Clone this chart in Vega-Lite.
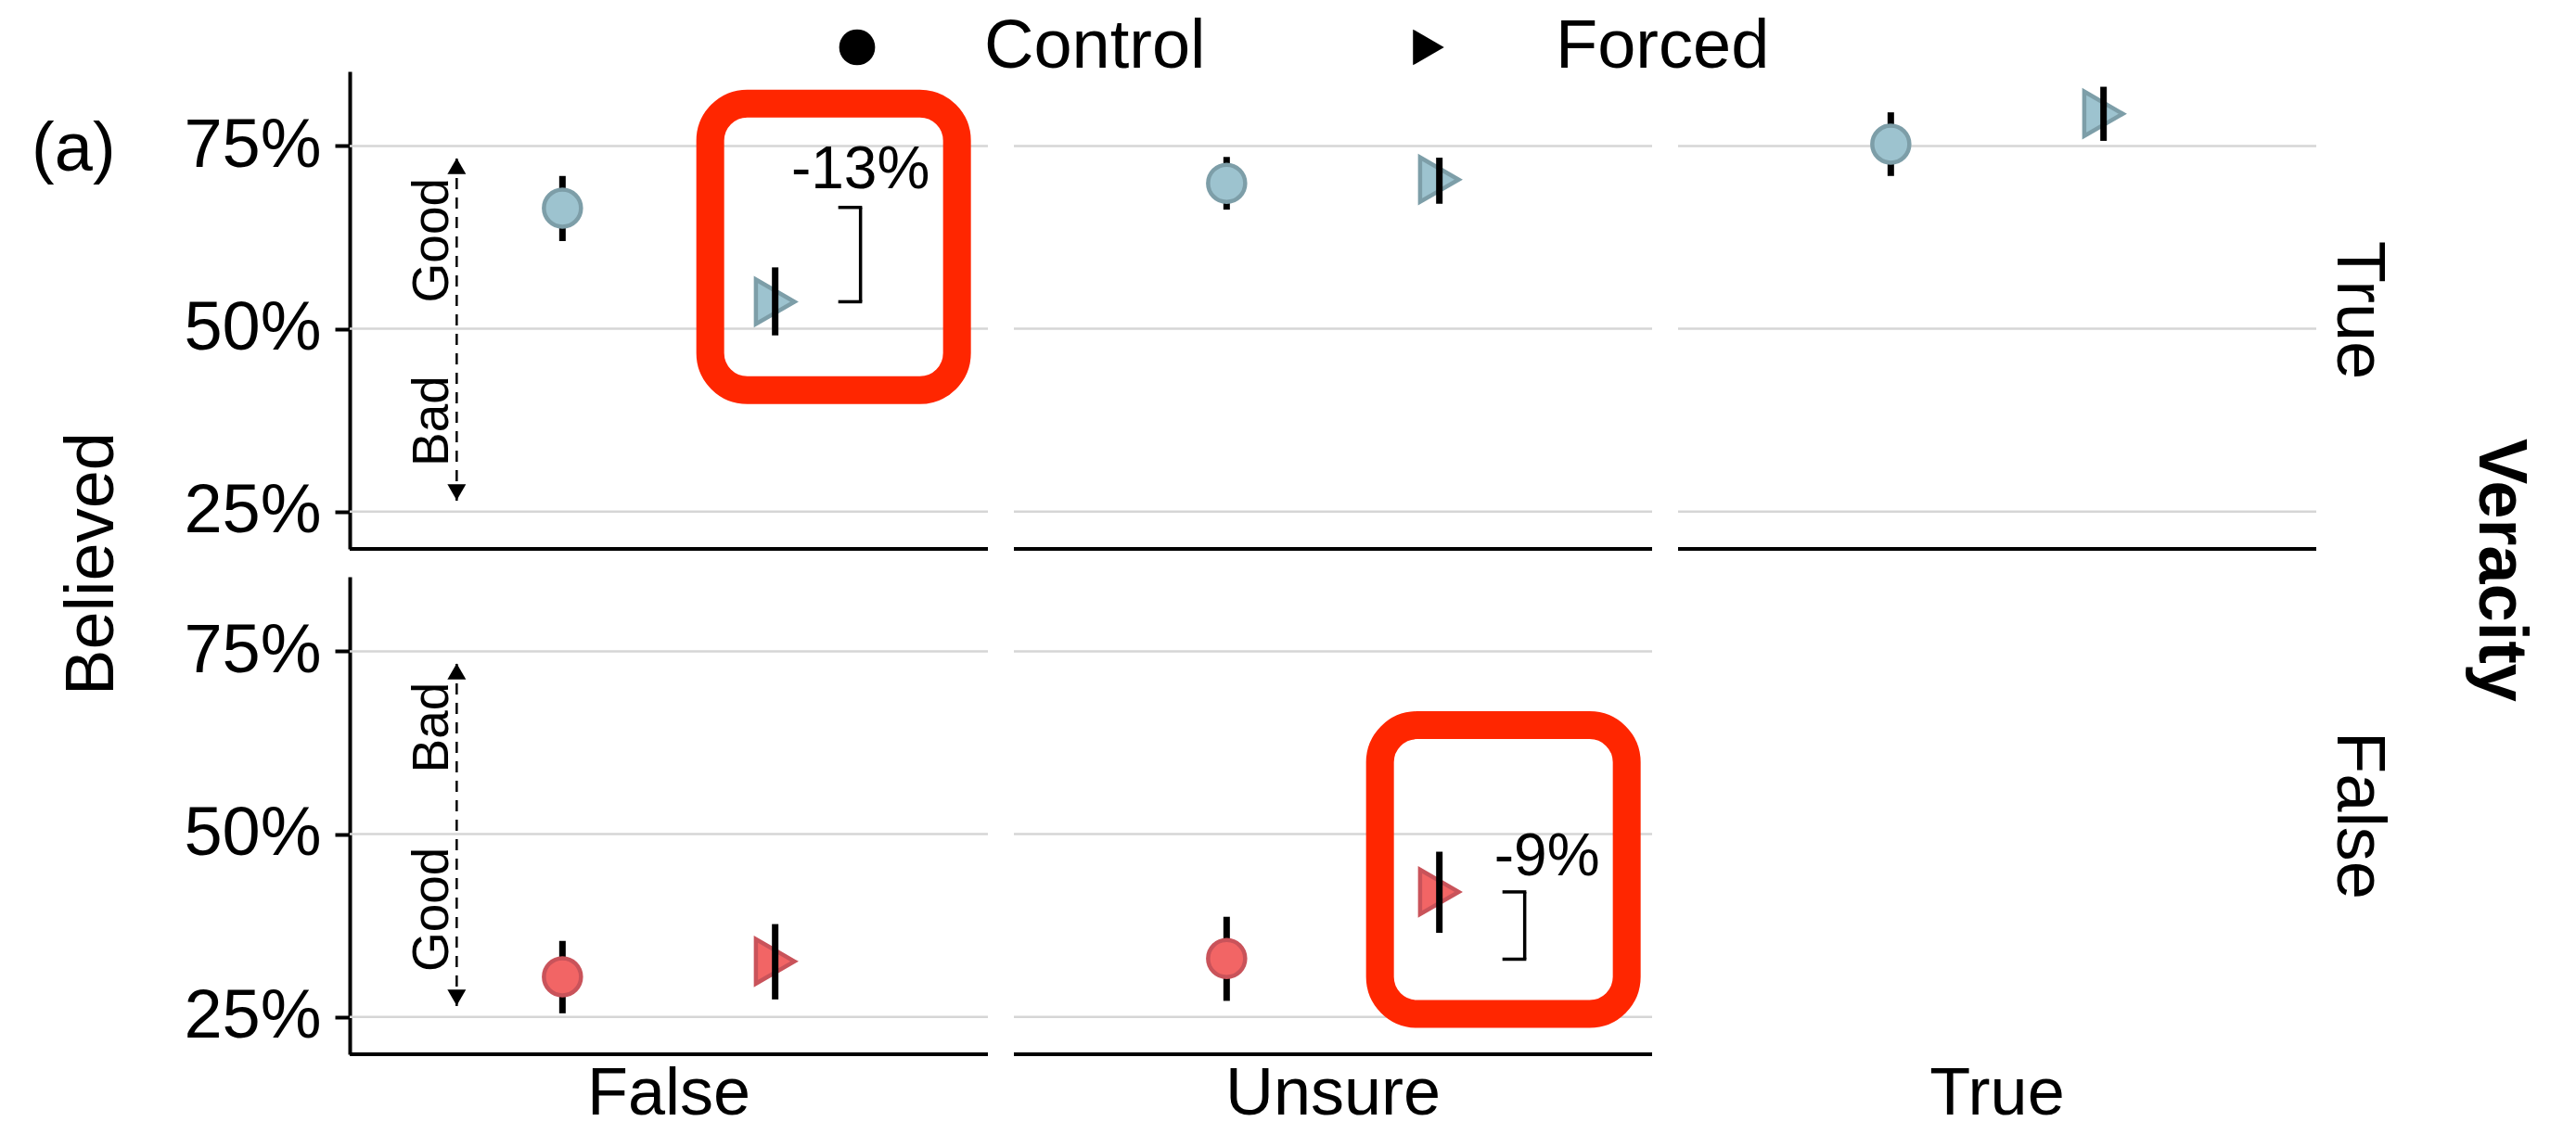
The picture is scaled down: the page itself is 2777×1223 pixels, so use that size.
{
  "$schema": "https://vega.github.io/schema/vega-lite/v6.json",
  "autosize": {"type": "pad"},
  "padding": {"left": 34, "top": 14, "right": 10, "bottom": 5},
  "background": "white",
  "bounds": "flush",
  "title": {"text": "Veracity", "orient": "right", "anchor": "middle", "angle": 90, "fontSize": 74, "fontWeight": "bold", "color": "black", "offset": 78},
  "config": {
    "font": "Liberation Sans",
    "view": {"stroke": null}
  },
  "data": {
    "values": [
      {"kind": "point", "Veracity": "True", "Response": "False", "Condition": "Control", "mean": 0.665, "lo": 0.620, "hi": 0.709},
      {"kind": "point", "Veracity": "True", "Response": "False", "Condition": "Forced", "mean": 0.537, "lo": 0.491, "hi": 0.584},
      {"kind": "point", "Veracity": "True", "Response": "Unsure", "Condition": "Control", "mean": 0.699, "lo": 0.663, "hi": 0.735},
      {"kind": "point", "Veracity": "True", "Response": "Unsure", "Condition": "Forced", "mean": 0.704, "lo": 0.671, "hi": 0.734},
      {"kind": "point", "Veracity": "True", "Response": "True", "Condition": "Control", "mean": 0.7525, "lo": 0.709, "hi": 0.796},
      {"kind": "point", "Veracity": "True", "Response": "True", "Condition": "Forced", "mean": 0.794, "lo": 0.757, "hi": 0.831},
      {"kind": "point", "Veracity": "False", "Response": "False", "Condition": "Control", "mean": 0.305, "lo": 0.255, "hi": 0.354},
      {"kind": "point", "Veracity": "False", "Response": "False", "Condition": "Forced", "mean": 0.326, "lo": 0.274, "hi": 0.377},
      {"kind": "point", "Veracity": "False", "Response": "Unsure", "Condition": "Control", "mean": 0.330, "lo": 0.272, "hi": 0.387},
      {"kind": "point", "Veracity": "False", "Response": "Unsure", "Condition": "Forced", "mean": 0.421, "lo": 0.365, "hi": 0.476},
      {"kind": "empty", "Veracity": "False", "Response": "True", "Condition": "Control"},
      {"kind": "arrow", "Veracity": "True", "Response": "False", "Condition": "Control", "lo": 0.265, "hi": 0.734},
      {"kind": "arrow", "Veracity": "False", "Response": "False", "Condition": "Control", "lo": 0.265, "hi": 0.734},
      {"kind": "label", "Veracity": "True", "Response": "False", "Condition": "Control", "pos": 0.621, "label": "Good"},
      {"kind": "label", "Veracity": "True", "Response": "False", "Condition": "Control", "pos": 0.374, "label": "Bad"},
      {"kind": "label", "Veracity": "False", "Response": "False", "Condition": "Control", "pos": 0.646, "label": "Bad"},
      {"kind": "label", "Veracity": "False", "Response": "False", "Condition": "Control", "pos": 0.397, "label": "Good"},
      {"kind": "bracket", "Veracity": "True", "Response": "False", "Condition": "Forced", "lo": 0.537, "hi": 0.666, "pos": 0.716, "label": "-13%"},
      {"kind": "bracket", "Veracity": "False", "Response": "Unsure", "Condition": "Forced", "lo": 0.329, "hi": 0.421, "pos": 0.468, "label": "-9%"},
      {"kind": "box", "Veracity": "True", "Response": "False", "Condition": "Forced", "lo": 0.416, "hi": 0.808},
      {"kind": "box", "Veracity": "False", "Response": "Unsure", "Condition": "Forced", "lo": 0.254, "hi": 0.649},
      {"kind": "tag", "Veracity": "True", "Response": "False", "Condition": "Control", "pos": 0.744, "label": "(a)"}
    ]
  },
  "facet": {
    "row": {
      "field": "Veracity", "type": "nominal", "sort": ["True", "False"], "title": "Believed",
      "header": {"labelOrient": "right", "titleOrient": "left", "labelAngle": 90, "titleAngle": 270,
                 "labelFontSize": 74, "titleFontSize": 74, "titleFontWeight": "normal",
                 "labelPadding": 7, "titlePadding": -25, "labelColor": "black", "titleColor": "black"}
    },
    "column": {
      "field": "Response", "type": "nominal", "sort": ["False", "Unsure", "True"], "title": null,
      "header": {"labelOrient": "bottom", "labelFontSize": 72, "labelPadding": 8, "labelColor": "black"}
    }
  },
  "spacing": {"row": 30, "column": 28},
  "spec": {
    "width": 688,
    "height": 515,
    "encoding": {
      "x": {"field": "Condition", "type": "nominal", "scale": {"type": "point", "domain": ["Control", "Forced"], "padding": 1}, "axis": null}
    },
    "layer": [
      {
        "transform": [{"filter": "datum.kind == 'point' && datum.Condition == 'Control'"}],
        "mark": {"type": "rule", "color": "#d6d6d6", "strokeWidth": 2.5},
        "encoding": {"x": null, "y": {"datum": 0.25, "type": "quantitative"}}
      },
      {
        "transform": [{"filter": "datum.kind == 'point' && datum.Condition == 'Control'"}],
        "mark": {"type": "rule", "color": "#d6d6d6", "strokeWidth": 2.5},
        "encoding": {"x": null, "y": {"datum": 0.5, "type": "quantitative"}}
      },
      {
        "transform": [{"filter": "datum.kind == 'point' && datum.Condition == 'Control'"}],
        "mark": {"type": "rule", "color": "#d6d6d6", "strokeWidth": 2.5},
        "encoding": {"x": null, "y": {"datum": 0.75, "type": "quantitative"}}
      },
      {
        "transform": [{"filter": "datum.kind == 'point' && datum.Condition == 'Control'"}],
        "mark": {"type": "rule", "color": "black", "strokeWidth": 4},
        "encoding": {"x": null, "y": {"datum": 0.199, "type": "quantitative"}}
      },
      {
        "transform": [{"filter": "datum.kind == 'arrow'"}],
        "mark": {"type": "rule", "color": "black", "strokeWidth": 2.5, "strokeDash": [12, 9], "xOffset": -114},
        "encoding": {
          "y": {"field": "lo", "type": "quantitative", "scale": {"domain": [0.199, 0.852], "nice": false, "zero": false},
                "axis": {"title": null, "values": [0.25, 0.5, 0.75], "format": ".0%", "grid": false,
                         "labelFontSize": 74, "labelColor": "black", "domainColor": "black", "domainWidth": 4,
                         "tickColor": "black", "tickWidth": 4, "tickSize": 16, "labelPadding": 15}},
          "y2": {"field": "hi"}
        }
      },
      {
        "transform": [{"filter": "datum.kind == 'arrow'"}],
        "mark": {"type": "point", "shape": "triangle-up", "filled": true, "color": "black", "size": 400, "xOffset": -114, "yOffset": 9, "opacity": 1},
        "encoding": {"y": {"field": "hi", "type": "quantitative"}}
      },
      {
        "transform": [{"filter": "datum.kind == 'arrow'"}],
        "mark": {"type": "point", "shape": "triangle-down", "filled": true, "color": "black", "size": 400, "xOffset": -114, "yOffset": -9, "opacity": 1},
        "encoding": {"y": {"field": "lo", "type": "quantitative"}}
      },
      {
        "transform": [{"filter": "datum.kind == 'label'"}],
        "mark": {"type": "text", "angle": 270, "fontSize": 55, "align": "center", "baseline": "middle", "color": "black", "xOffset": -140},
        "encoding": {"y": {"field": "pos", "type": "quantitative"}, "text": {"field": "label"}}
      },
      {
        "transform": [{"filter": "datum.kind == 'point' && datum.Condition == 'Forced'"}],
        "mark": {"type": "point", "filled": true, "size": 2300, "strokeWidth": 4.5, "opacity": 1},
        "encoding": {
          "y": {"field": "mean", "type": "quantitative"},
          "shape": {"field": "Condition", "type": "nominal", "scale": {"domain": ["Control", "Forced"], "range": ["circle", "triangle-right"]},
                    "legend": {"title": null, "orient": "none", "direction": "horizontal", "legendX": 510, "legendY": -63,
                               "labelFontSize": 74, "labelColor": "black", "labelLimit": 0, "symbolSize": 1500, "symbolFillColor": "black",
                               "symbolStrokeColor": "black", "symbolStrokeWidth": 0,
                               "labelOffset": 100, "columnPadding": 203}},
          "fill": {"field": "Veracity", "type": "nominal", "scale": {"domain": ["True", "False"], "range": ["#9dc3cf", "#f26565"]}, "legend": null},
          "stroke": {"field": "Veracity", "type": "nominal", "scale": {"domain": ["True", "False"], "range": ["#7d9ea8", "#c9535a"]}, "legend": null}
        }
      },
      {
        "transform": [{"filter": "datum.kind == 'point'"}],
        "mark": {"type": "rule", "color": "black", "strokeWidth": 7},
        "encoding": {"y": {"field": "lo", "type": "quantitative"}, "y2": {"field": "hi"}}
      },
      {
        "transform": [{"filter": "datum.kind == 'point' && datum.Condition == 'Control'"}],
        "mark": {"type": "point", "filled": true, "size": 1600, "strokeWidth": 4.5, "opacity": 1},
        "encoding": {
          "y": {"field": "mean", "type": "quantitative"},
          "shape": {"field": "Condition", "type": "nominal"},
          "fill": {"field": "Veracity", "type": "nominal", "legend": null},
          "stroke": {"field": "Veracity", "type": "nominal", "legend": null}
        }
      },
      {
        "transform": [{"filter": "datum.kind == 'bracket'"}],
        "mark": {"type": "rule", "color": "black", "strokeWidth": 3.5, "xOffset": 92},
        "encoding": {"y": {"field": "lo", "type": "quantitative"}, "y2": {"field": "hi"}}
      },
      {
        "transform": [{"filter": "datum.kind == 'bracket'"}],
        "mark": {"type": "rule", "color": "black", "strokeWidth": 3.5, "xOffset": 68, "x2Offset": 93.7},
        "encoding": {"x2": {"field": "Condition"}, "y": {"field": "hi", "type": "quantitative"}}
      },
      {
        "transform": [{"filter": "datum.kind == 'bracket'"}],
        "mark": {"type": "rule", "color": "black", "strokeWidth": 3.5, "xOffset": 68, "x2Offset": 93.7},
        "encoding": {"x2": {"field": "Condition"}, "y": {"field": "lo", "type": "quantitative"}}
      },
      {
        "transform": [{"filter": "datum.kind == 'bracket' && datum.label == '-13%'"}],
        "mark": {"type": "text", "fontSize": 64, "align": "center", "baseline": "middle", "color": "black", "xOffset": 92},
        "encoding": {"y": {"field": "pos", "type": "quantitative"}, "text": {"field": "label"}}
      },
      {
        "transform": [{"filter": "datum.kind == 'bracket' && datum.label == '-9%'"}],
        "mark": {"type": "text", "fontSize": 64, "align": "center", "baseline": "middle", "color": "black", "xOffset": 116},
        "encoding": {"y": {"field": "pos", "type": "quantitative"}, "text": {"field": "label"}}
      },
      {
        "transform": [{"filter": "datum.kind == 'box' && datum.Veracity == 'True'"}],
        "mark": {"type": "rect", "fill": null, "fillOpacity": 0, "stroke": "#ff2600", "strokeWidth": 30, "cornerRadius": 40, "xOffset": -70, "x2Offset": 196},
        "encoding": {"x2": {"field": "Condition"}, "y": {"field": "hi", "type": "quantitative"}, "y2": {"field": "lo"}}
      },
      {
        "transform": [{"filter": "datum.kind == 'box' && datum.Veracity == 'False'"}],
        "mark": {"type": "rect", "fill": null, "fillOpacity": 0, "stroke": "#ff2600", "strokeWidth": 30, "cornerRadius": 40, "xOffset": -64, "x2Offset": 202},
        "encoding": {"x2": {"field": "Condition"}, "y": {"field": "hi", "type": "quantitative"}, "y2": {"field": "lo"}}
      },
      {
        "transform": [{"filter": "datum.kind == 'tag'"}],
        "mark": {"type": "text", "fontSize": 74, "align": "center", "baseline": "middle", "color": "black", "xOffset": -527},
        "encoding": {"y": {"field": "pos", "type": "quantitative"}, "text": {"field": "label"}}
      }
    ]
  },
  "resolve": {"scale": {"x": "shared", "y": "shared"}}
}
